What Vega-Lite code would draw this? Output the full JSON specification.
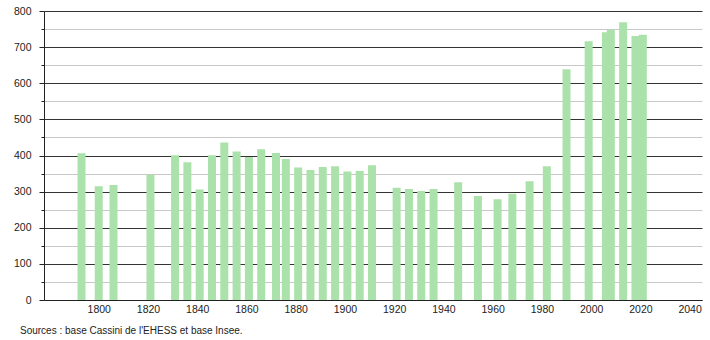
{
  "$schema": "https://vega.github.io/schema/vega-lite/v6.json",
  "width": 658,
  "height": 289,
  "autosize": "none",
  "padding": {"left": 44, "top": 11, "right": 8, "bottom": 40},
  "background": "white",
  "config": {"view": {"stroke": null}, "font": "Liberation Sans"},
  "title": {
    "text": "Sources : base Cassini de l'EHESS et base Insee.",
    "orient": "bottom",
    "anchor": "start",
    "frame": "group",
    "dx": -24,
    "offset": 11,
    "fontSize": 10,
    "fontWeight": "normal",
    "color": "#222",
    "font": "Liberation Sans"
  },
  "data": {
    "values": [
      {"year": 1793, "pop": 406},
      {"year": 1800, "pop": 315},
      {"year": 1806, "pop": 318},
      {"year": 1821, "pop": 347},
      {"year": 1831, "pop": 401},
      {"year": 1836, "pop": 381},
      {"year": 1841, "pop": 306},
      {"year": 1846, "pop": 401},
      {"year": 1851, "pop": 436},
      {"year": 1856, "pop": 411},
      {"year": 1861, "pop": 396},
      {"year": 1866, "pop": 417},
      {"year": 1872, "pop": 407},
      {"year": 1876, "pop": 390},
      {"year": 1881, "pop": 367},
      {"year": 1886, "pop": 360},
      {"year": 1891, "pop": 368},
      {"year": 1896, "pop": 370},
      {"year": 1901, "pop": 356},
      {"year": 1906, "pop": 357},
      {"year": 1911, "pop": 373},
      {"year": 1921, "pop": 311},
      {"year": 1926, "pop": 307},
      {"year": 1931, "pop": 302},
      {"year": 1936, "pop": 307},
      {"year": 1946, "pop": 326},
      {"year": 1954, "pop": 288},
      {"year": 1962, "pop": 279},
      {"year": 1968, "pop": 294},
      {"year": 1975, "pop": 329},
      {"year": 1982, "pop": 370},
      {"year": 1990, "pop": 639},
      {"year": 1999, "pop": 716},
      {"year": 2006, "pop": 741},
      {"year": 2008, "pop": 748},
      {"year": 2013, "pop": 769},
      {"year": 2018, "pop": 731},
      {"year": 2021, "pop": 734}
    ]
  },
  "mark": {"type": "bar", "width": 8, "color": "#abe2ab"},
  "encoding": {
    "x": {
      "field": "year",
      "type": "quantitative",
      "scale": {"domain": [1779.8, 2043], "nice": false, "zero": false},
      "axis": {
        "values": [1800, 1820, 1840, 1860, 1880, 1900, 1920, 1940, 1960, 1980, 2000, 2020, 2040],
        "format": "d",
        "grid": false,
        "ticks": false,
        "domainColor": "#222",
        "labelFontSize": 10.5,
        "labelColor": "#222",
        "labelPadding": 4,
        "labelFlush": false,
        "labelOverlap": false,
        "title": null
      }
    },
    "y": {
      "field": "pop",
      "type": "quantitative",
      "scale": {"domain": [0, 800], "nice": false},
      "axis": {
        "values": [0, 50, 100, 150, 200, 250, 300, 350, 400, 450, 500, 550, 600, 650, 700, 750, 800],
        "labelExpr": "datum.value % 100 === 0 ? datum.label : ''",
        "grid": true,
        "gridColor": {"condition": {"test": "datum.value % 100 === 0", "value": "#333333"}, "value": "#c8c8c8"},
        "gridWidth": 1,
        "tickSize": {"condition": {"test": "datum.value % 100 === 0", "value": 5}, "value": 3},
        "tickColor": "#222",
        "domainColor": "#222",
        "labelFontSize": 10.5,
        "labelColor": "#222",
        "labelPadding": 8,
        "labelOverlap": false,
        "labelFlush": false,
        "title": null
      }
    }
  }
}
